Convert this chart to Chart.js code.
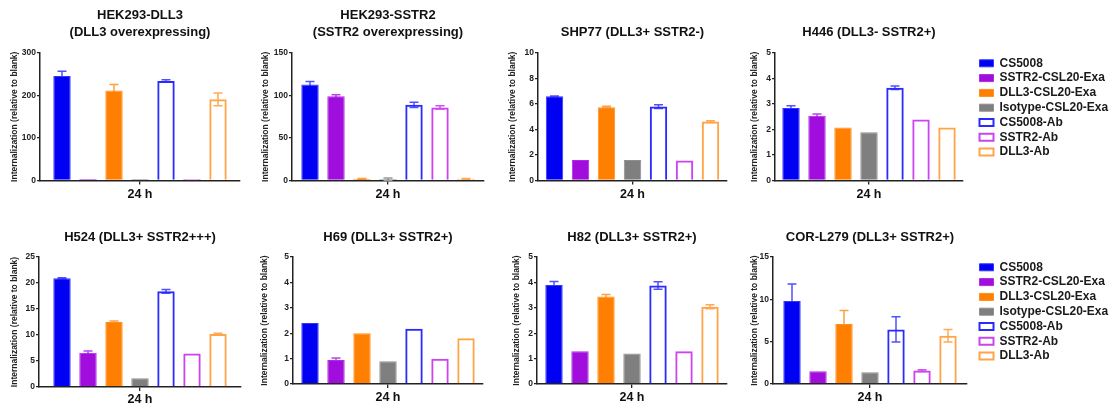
<!DOCTYPE html>
<html><head><meta charset="utf-8">
<script src="https://cdn.jsdelivr.net/npm/chart.js@4.4.1/dist/chart.umd.min.js"></script>
<style>
html,body{margin:0;padding:0;background:#fff;}
body{width:1116px;height:408px;position:relative;overflow:hidden;}
canvas{position:absolute;}
</style></head><body>
<canvas id="c0"></canvas><canvas id="c1"></canvas><canvas id="c2"></canvas><canvas id="c3"></canvas>
<canvas id="c4"></canvas><canvas id="c5"></canvas><canvas id="c6"></canvas><canvas id="c7"></canvas>
<script>
// ---------------- data ----------------
const categories = ['24 h'];
const seriesNames = ['CS5008','SSTR2-CSL20-Exa','DLL3-CSL20-Exa','Isotype-CSL20-Exa','CS5008-Ab','SSTR2-Ab','DLL3-Ab'];
const yAxisTitle = 'Internalization (relative to blank)';

const panelTitles = [
  ['HEK293-DLL3','(DLL3 overexpressing)'],
  ['HEK293-SSTR2','(SSTR2 overexpressing)'],
  'SHP77 (DLL3+ SSTR2-)',
  'H446 (DLL3- SSTR2+)',
  'H524 (DLL3+ SSTR2+++)',
  'H69 (DLL3+ SSTR2+)',
  'H82 (DLL3+ SSTR2+)',
  'COR-L279 (DLL3+ SSTR2+)'
];

const hek293Dll3Values  = [246, 2, 212, 2, 234, 2, 191];
const hek293Dll3Errors  = [11, 0, 14, 0, 3, 0, 15];
const hek293Sstr2Values = [113, 99, 2, 1.5, 89, 86, 2];
const hek293Sstr2Errors = [3.5, 2, 0.5, 1.5, 3, 2, 0.5];
const shp77Values       = [6.6, 1.6, 5.75, 1.6, 5.8, 1.57, 4.62];
const shp77Errors       = [0.03, 0, 0.08, 0, 0.15, 0, 0.07];
const h446Values        = [2.84, 2.54, 2.08, 1.89, 3.64, 2.39, 2.08];
const h446Errors        = [0.09, 0.07, 0, 0, 0.07, 0, 0];
const h524Values        = [20.9, 6.6, 12.5, 1.7, 18.4, 6.44, 10.2];
const h524Errors        = [0.1, 0.3, 0.2, 0, 0.35, 0, 0.15];
const h69Values         = [2.4, 0.94, 2.0, 0.9, 2.18, 0.99, 1.8];
const h69Errors         = [0, 0.08, 0, 0, 0, 0, 0];
const h82Values         = [3.9, 1.29, 3.44, 1.2, 3.88, 1.29, 3.04];
const h82Errors         = [0.14, 0, 0.08, 0, 0.15, 0, 0.08];
const corL279Values     = [9.8, 1.5, 7.1, 1.4, 6.45, 1.58, 5.7];
const corL279Errors     = [2.0, 0, 1.58, 0, 1.5, 0.1, 0.75];

const yMaxValues  = [300, 150, 10, 5, 25, 5, 5, 15];
const yStepValues = [100, 50, 2, 1, 5, 1, 1, 5];

// ---------------- styles / layout ----------------
const FONT = '"Liberation Sans", Arial, Helvetica, sans-serif';
const fills   = ['#0000f2', '#a00ddc', '#ff7f00', '#7f7f7f', 'rgba(255,255,255,0)', 'rgba(255,255,255,0)', 'rgba(255,255,255,0)'];
const borders = ['#3535ff', '#b02ae6', '#ff9020', '#8f8f8f', '#2a2aff', '#cc44f2', '#ffa448'];
const errCols = ['#5050ff', '#b844ec', '#ffa040', '#999999', '#5050ff', '#cc55f2', '#ffaa55'];
const borderW = [1, 1, 1, 1, 2, 2, 2];

const YW = 38, PADR = 6, LEG_PAD = 2.8;
const layoutSpec = [
  {L:40,  R:240, row:0, xH:24.5, xp:3, tOff:25, tp:7.2,  tb:12},
  {L:292, R:484, row:0, xH:24.5, xp:3, tOff:26, tp:7.2,  tb:12},
  {L:538, R:727, row:0, xH:24.5, xp:3, tOff:25, tp:24,   tb:12.1},
  {L:775, R:963, row:0, xH:24.5, xp:3, tOff:20, tp:24,   tb:12.1, legend:true},
  {L:39,  R:241, row:1, xH:21,   xp:1, tOff:24, tp:23.5, tb:11.6},
  {L:293, R:483, row:1, xH:24,   xp:2, tOff:28, tp:23.5, tb:11.6},
  {L:537, R:727, row:1, xH:24,   xp:2, tOff:20, tp:23.5, tb:11.6},
  {L:773, R:967, row:1, xH:24,   xp:2, tOff:18, tp:23.5, tb:11.6, legend:true}
];
const panelValues = [hek293Dll3Values, hek293Sstr2Values, shp77Values, h446Values, h524Values, h69Values, h82Values, corL279Values];
const panelErrors = [hek293Dll3Errors, hek293Sstr2Errors, shp77Errors, h446Errors, h524Errors, h69Errors, h82Errors, corL279Errors];

const errorBarPlugin = {
  id: 'errorBars',
  beforeDatasetsDraw(chart, args, opts) {
    const ys = chart.scales.y, ctx = chart.ctx, cap = 9;
    ctx.save();
    chart.data.datasets.forEach((ds, i) => {
      const e = opts.errors[i];
      if (!e) return;
      const bar = chart.getDatasetMeta(i).data[0];
      const v = ds.data[0];
      const yT = ys.getPixelForValue(v + e), yB = ys.getPixelForValue(Math.max(0, v - e));
      ctx.strokeStyle = opts.colors[i];
      ctx.lineWidth = 1.5;
      ctx.beginPath();
      ctx.moveTo(bar.x, yB); ctx.lineTo(bar.x, yT);
      ctx.moveTo(bar.x - cap / 2, yT); ctx.lineTo(bar.x + cap / 2, yT);
      ctx.moveTo(bar.x - cap / 2, yB); ctx.lineTo(bar.x + cap / 2, yB);
      ctx.stroke();
    });
    ctx.restore();
  }
};

const legendPlace = {
  id: 'legendPlace',
  beforeUpdate(chart, args, opts) {
    const lg = chart.legend;
    if (!opts.enabled || !lg || lg.__p) return;
    const f = lg.fit;
    const w = opts.width;
    lg.fit = function () { f.call(this); this.width = w; };
    lg.__p = true;
  },
  afterLayout(chart, args, opts) {
    if (!opts.enabled) return;
    const lg = chart.legend;
    const h = lg.height;
    lg.left = opts.left; lg.right = lg.left + lg.width;
    lg.top = chart.chartArea.top + opts.dy; lg.bottom = lg.top + h;
  }
};

layoutSpec.forEach((p, idx) => {
  const cv = document.getElementById('c' + idx);
  const canvasLeft = p.L - YW;
  const canvasTop = p.row === 0 ? 0 : 205;
  const canvasH = p.row === 0 ? 205 : 203;
  const W = p.R - p.L;
  const canvasW = p.legend ? 1116 - canvasLeft : YW + W + PADR;
  cv.width = canvasW; cv.height = canvasH;
  cv.style.left = canvasLeft + 'px'; cv.style.top = canvasTop + 'px';
  cv.style.width = canvasW + 'px'; cv.style.height = canvasH + 'px';

  const datasets = seriesNames.map((name, i) => ({
    label: name,
    data: [panelValues[idx][i]],
    backgroundColor: fills[i],
    borderColor: borders[i],
    borderWidth: borderW[i],
    minBarLength: 1.5,
    categoryPercentage: 182 / W,
    barPercentage: 0.67
  }));

  new Chart(cv, {
    type: 'bar',
    data: { labels: categories, datasets },
    plugins: [errorBarPlugin, legendPlace],
    options: {
      responsive: false,
      animation: false,
      devicePixelRatio: 1,
      layout: { padding: { left: 0, top: 0, bottom: 0, right: p.legend ? 0 : PADR } },
      plugins: {
        tooltip: { enabled: false },
        title: {
          display: true, text: panelTitles[idx], fullSize: false, color: '#111',
          font: { family: FONT, size: 13, weight: 'bold', lineHeight: 1.3 },
          padding: { top: p.tp, bottom: p.tb }
        },
        legend: {
          display: !!p.legend, position: 'right', align: 'start',
          labels: { boxWidth: 14, boxHeight: 7, padding: LEG_PAD, color: '#1a1a1a',
                    font: { family: FONT, size: 12, weight: 'bold' } }
        },
        errorBars: { errors: panelErrors[idx], colors: errCols },
        legendPlace: { enabled: !!p.legend, width: canvasW - (YW + W), left: 979.5 - LEG_PAD - canvasLeft, dy: 1.5 }
      },
      scales: {
        x: {
          type: 'category', offset: true,
          grid: { display: true, drawOnChartArea: false, drawTicks: true, tickLength: 4, offset: false, color: '#222', lineWidth: 1.3 },
          border: { display: true, color: '#222', width: 1.5 },
          ticks: { color: '#111', padding: p.xp, maxRotation: 0, font: { family: FONT, size: 12.5, weight: 'bold' } },
          afterFit(s) { s.height = p.xH; }
        },
        y: {
          min: 0, max: yMaxValues[idx],
          ticks: { stepSize: yStepValues[idx], color: '#222', padding: 1, font: { family: FONT, size: 8.5, weight: 'bold' } },
          grid: { drawOnChartArea: false, drawTicks: true, tickLength: 3, color: '#222', lineWidth: 1.3 },
          border: { display: true, color: '#222', width: 1.5 },
          title: { display: true, text: yAxisTitle, color: '#222',
                   font: { family: FONT, size: 8.5, weight: 'bold' },
                   padding: { top: Math.max(0, YW - p.tOff - 5.1), bottom: 0 } },
          afterFit(s) { s.width = YW; }
        }
      }
    }
  });
});
</script>
</body></html>
